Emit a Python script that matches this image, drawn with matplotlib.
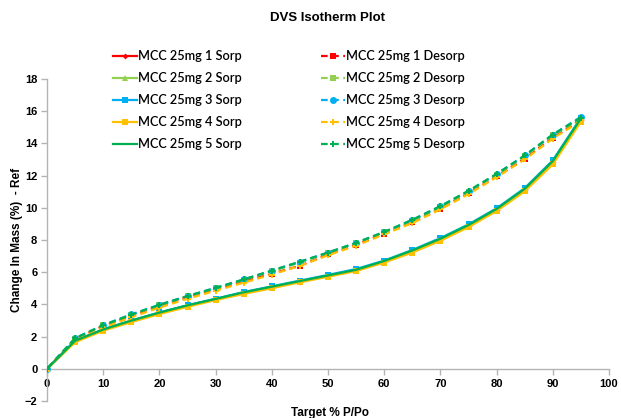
import matplotlib
matplotlib.use("Agg")
import matplotlib.pyplot as plt

x = [0, 5, 10, 15, 20, 25, 30, 35, 40, 45, 50, 55, 60, 65, 70, 75, 80, 85, 90, 95]

sorp1 = [0, 1.72, 2.42, 2.97, 3.47, 3.92, 4.32, 4.72, 5.07, 5.42, 5.77, 6.12, 6.67, 7.30, 8.02, 8.87, 9.87, 11.12, 12.82, 15.45]
sorp2 = [0, 1.73, 2.43, 2.98, 3.48, 3.93, 4.33, 4.73, 5.08, 5.43, 5.78, 6.13, 6.68, 7.32, 8.05, 8.90, 9.90, 11.15, 12.85, 15.50]
sorp3 = [0, 1.75, 2.45, 3.00, 3.50, 3.95, 4.35, 4.77, 5.12, 5.48, 5.83, 6.20, 6.72, 7.38, 8.12, 8.97, 9.97, 11.22, 12.95, 15.60]
sorp4 = [0, 1.65, 2.37, 2.90, 3.40, 3.85, 4.27, 4.65, 5.00, 5.37, 5.72, 6.07, 6.60, 7.22, 7.95, 8.80, 9.80, 11.02, 12.70, 15.35]
sorp5 = [0, 1.74, 2.44, 2.99, 3.49, 3.94, 4.34, 4.75, 5.10, 5.45, 5.80, 6.15, 6.70, 7.35, 8.08, 8.93, 9.93, 11.18, 12.90, 15.55]

desorp1 = [0, 1.85, 2.65, 3.30, 3.90, 4.45, 4.95, 5.45, 5.90, 6.40, 7.10, 7.70, 8.40, 9.10, 9.95, 10.90, 11.95, 13.05, 14.35, 15.45]
desorp2 = [0, 1.88, 2.70, 3.35, 3.95, 4.50, 5.00, 5.52, 6.05, 6.60, 7.20, 7.80, 8.48, 9.20, 10.05, 11.00, 12.05, 13.20, 14.50, 15.55]
desorp3 = [0, 1.90, 2.72, 3.38, 3.98, 4.52, 5.03, 5.55, 6.10, 6.65, 7.22, 7.83, 8.50, 9.25, 10.10, 11.05, 12.10, 13.25, 14.55, 15.65]
desorp4 = [0, 1.75, 2.55, 3.20, 3.80, 4.35, 4.85, 5.35, 5.85, 6.40, 7.05, 7.65, 8.35, 9.05, 9.90, 10.85, 11.90, 13.00, 14.30, 15.40]
desorp5 = [0, 1.90, 2.70, 3.37, 3.97, 4.52, 5.02, 5.55, 6.10, 6.65, 7.22, 7.82, 8.50, 9.25, 10.10, 11.05, 12.10, 13.25, 14.55, 15.60]

sorp_labels = ["MCC 25mg 1 Sorp", "MCC 25mg 2 Sorp", "MCC 25mg 3 Sorp", "MCC 25mg 4 Sorp", "MCC 25mg 5 Sorp"]
desorp_labels = ["MCC 25mg 1 Desorp", "MCC 25mg 2 Desorp", "MCC 25mg 3 Desorp", "MCC 25mg 4 Desorp", "MCC 25mg 5 Desorp"]
colors = ["#FF0000", "#92D050", "#00B0F0", "#FFC000", "#00B050"]
sorp_markers = ["D", "^", "s", "s", None]
sorp_msize = [3, 5, 5, 5, 0]
desorp_markers = ["s", "s", "o", "P", "P"]
desorp_msize = [5, 5, 5, 5, 5]

sorps = [sorp1, sorp2, sorp3, sorp4, sorp5]
desorps = [desorp1, desorp2, desorp3, desorp4, desorp5]

W, H = 621, 418
fig = plt.figure(figsize=(W/100, H/100), dpi=100)
ax = fig.add_axes([47/W, 1-401/H, (609-47)/W, (401-79)/H])

sh, dh = [], []
for i in range(5):
    l1, = ax.plot(x, sorps[i], color=colors[i], lw=1.6, marker=sorp_markers[i],
                  markersize=sorp_msize[i], markeredgewidth=0, label=sorp_labels[i], zorder=3+i)
    l2, = ax.plot(x[::-1], desorps[i][::-1], color=colors[i], lw=1.6, ls=(0, (3, 2)),
                  marker=desorp_markers[i], markersize=desorp_msize[i], markeredgewidth=0,
                  label=desorp_labels[i], zorder=3+i)
    sh.append(l1)
    dh.append(l2)

ax.set_xlim(0, 100)
ax.set_ylim(-2, 18)
ax.set_xticks(range(0, 101, 10))
ax.set_yticks(range(-2, 19, 2))
for s in ["top", "right"]:
    ax.spines[s].set_visible(False)
ax.spines["bottom"].set_position(("data", 0))
for s in ["left", "bottom"]:
    ax.spines[s].set_color("#B4B4B4")
    ax.spines[s].set_linewidth(1.0)
ax.tick_params(axis="both", colors="#B4B4B4", labelcolor="black", length=4, width=1,
               direction="out", pad=3)
for lab in ax.get_xticklabels() + ax.get_yticklabels():
    lab.set_fontweight("bold")
    lab.set_fontsize(8)
    lab.set_fontfamily("Liberation Sans")

fig.text(328/W, 1-18/H, "DVS Isotherm Plot", ha="center", va="center",
         fontsize=9.5, fontweight="bold", family="Liberation Sans")
fig.text(330/W, 1-413/H, "Target % P/Po", ha="center", va="center",
         fontsize=8.5, fontweight="bold", family="Liberation Sans")
fig.text(17/W, 1-240/H, "Change In Mass (%)  - Ref", ha="center", va="center",
         rotation=90, fontsize=8.5, fontweight="bold", family="Liberation Sans")

groups = [(sh, sorp_labels, 113), (dh, desorp_labels, 321)]
LEG_FONT = dict(family="Lato", weight="semibold")


def make_legends(fsize, ls, top):
    em = fsize * 100 / 72.0
    out = []
    for handles, labels, x0 in groups:
        lg = fig.legend(handles, labels, ncol=1, frameon=False,
                        loc="upper left", bbox_to_anchor=(x0/W, 1-top/H),
                        prop=dict(LEG_FONT, size=fsize),
                        handlelength=24/em, handletextpad=1.5/em, labelspacing=ls,
                        borderaxespad=0, borderpad=0)
        out.append(lg)
    return out


def measure(legs):
    fig.canvas.draw()
    r = fig.canvas.get_renderer()
    cys = []
    for t in legs[0].get_texts():
        bb = t.get_window_extent(r)
        cys.append(H - (bb.y0 + bb.y1) / 2)
    wbb = legs[1].get_texts()[0].get_window_extent(r)
    return cys, wbb.width


fsize, ls, top = 10.5, 0.5, 46.0
for _ in range(3):
    legs = make_legends(fsize, ls, top)
    cys, width = measure(legs)
    for lg in legs:
        lg.remove()
    fig.legends.clear()
    em = fsize * 100 / 72.0
    pitch = (cys[-1] - cys[0]) / (len(cys) - 1)
    ls = ls + (22.0 - pitch) / em
    top = top + (56.0 - cys[0])
    fsize = fsize * 119.0 / width

legs = make_legends(fsize, ls, top)
cys, width = measure(legs)
pitch = (cys[-1] - cys[0]) / (len(cys) - 1)
final_ls = ls + (22.0 - pitch) / (fsize * 100 / 72.0)
top = top + (56.0 - cys[0])
for lg in legs:
    lg.remove()
fig.legends.clear()
legs = make_legends(fsize, final_ls, top)

fig.savefig("out.png", dpi=100)
